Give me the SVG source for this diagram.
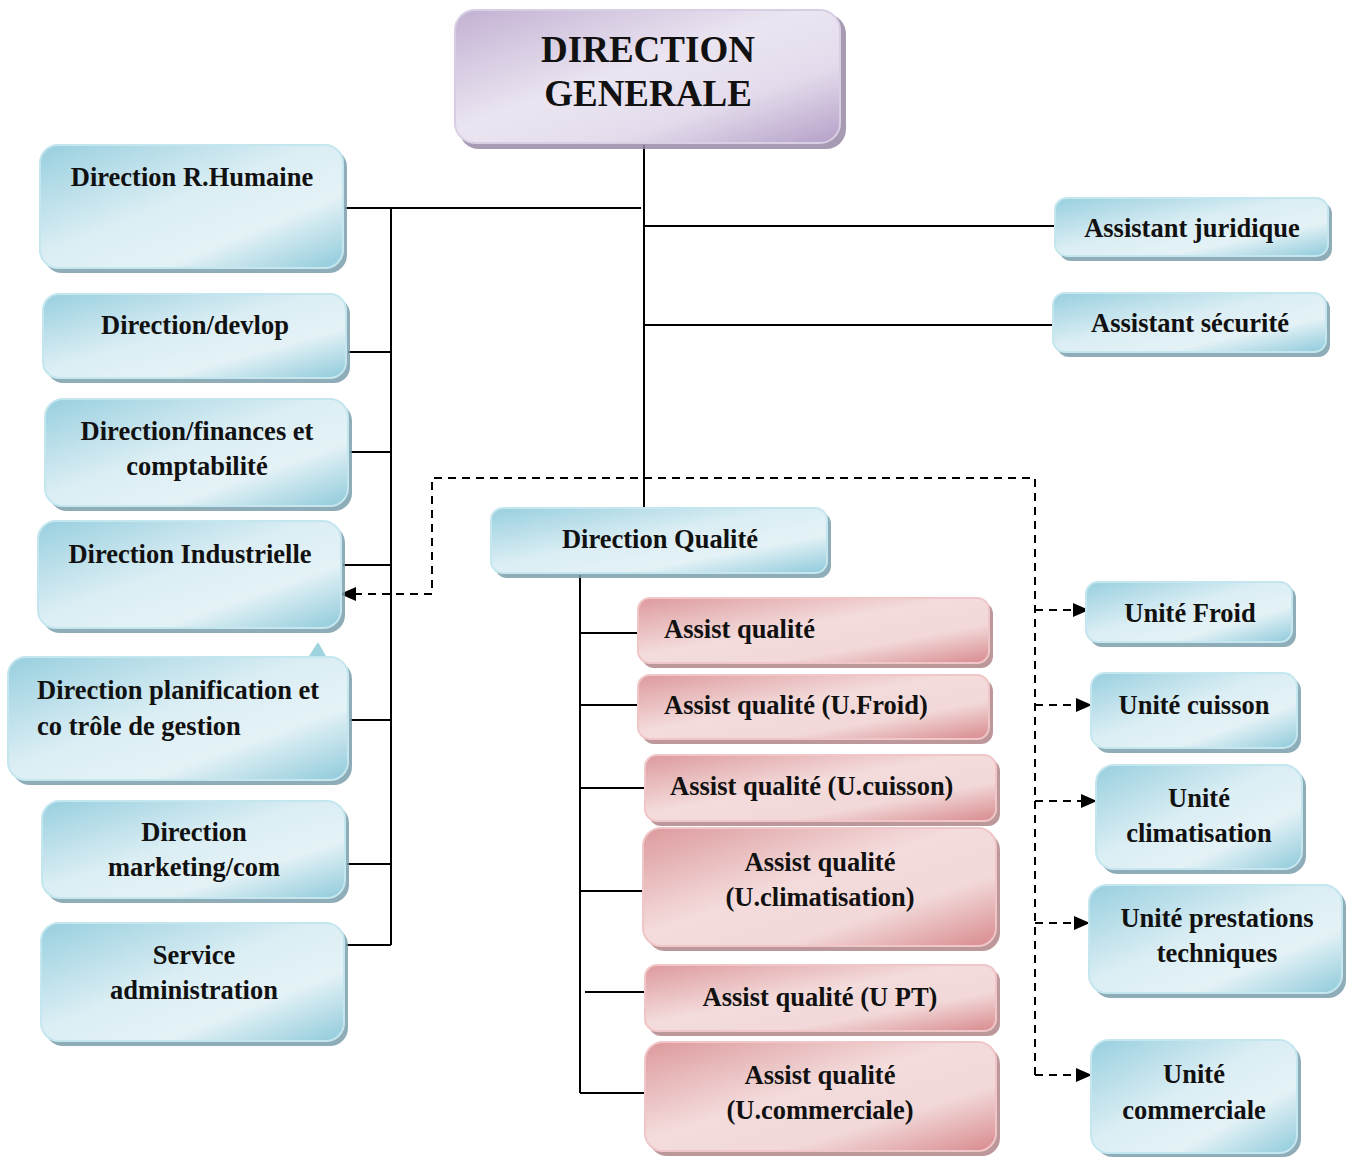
<svg xmlns="http://www.w3.org/2000/svg" width="1348" height="1157" viewBox="0 0 1348 1157">
<defs>
<linearGradient id="gb" x1="0" y1="0" x2="1" y2="1">
<stop offset="0" stop-color="#98cfdf"/>
<stop offset="0.45" stop-color="#dbeef4"/>
<stop offset="0.7" stop-color="#e4f2f6"/>
<stop offset="1" stop-color="#8fcadb"/>
</linearGradient>
<linearGradient id="gp" x1="0" y1="0" x2="1" y2="1">
<stop offset="0" stop-color="#dd9a9d"/>
<stop offset="0.45" stop-color="#f4dcdc"/>
<stop offset="0.7" stop-color="#f2d8d8"/>
<stop offset="1" stop-color="#d88a8e"/>
</linearGradient>
<linearGradient id="gv" x1="0" y1="0" x2="1" y2="1">
<stop offset="0" stop-color="#c2b1d3"/>
<stop offset="0.45" stop-color="#ebe5f1"/>
<stop offset="0.7" stop-color="#e4dcec"/>
<stop offset="1" stop-color="#b4a0c8"/>
</linearGradient>
<marker id="ah" markerWidth="16" markerHeight="16" refX="15" refY="8" orient="auto" markerUnits="userSpaceOnUse">
<path d="M0,1 L16,8 L0,15 Z" fill="#000"/>
</marker>
<style>
.t{font-family:"Liberation Serif","Times New Roman",serif;font-weight:bold;font-size:26.5px;fill:#111;}
.c{text-anchor:middle;}
.b{fill:url(#gb);stroke:#c4e6ee;stroke-width:2;}
.p{fill:url(#gp);stroke:#f0c6c8;stroke-width:2;}
.v{fill:url(#gv);stroke:#d9cfe4;stroke-width:2;}
.sb{fill:#7a9fab;opacity:0.85;}
.sp{fill:#b08688;opacity:0.85;}
.sv{fill:#968aa4;opacity:0.85;}
.l{fill:none;stroke:#000;stroke-width:2;}
.d{fill:none;stroke:#000;stroke-width:2;stroke-dasharray:8 6;}
</style>
</defs>

<g id="connectors">
<path class="l" d="M644,145 V510"/>
<path class="l" d="M345,208 H641"/>
<path class="l" d="M391,208 V945"/>
<path class="l" d="M348,352 H391 M350,452 H391 M343,565 H391 M350,720 H391 M347,864 H391 M346,945 H391"/>
<path class="l" d="M644,226 H1055 M644,325 H1053"/>
<path class="l" d="M580,575 V1093"/>
<path class="l" d="M580,633 H638 M580,705 H638 M580,788 H645 M580,891 H643 M585,992 H645 M580,1093 H645"/>
<path class="d" d="M1035,1075 V478 H432 V594 H341" marker-end="url(#ah)"/>
<path class="d" d="M1035,610 H1088" marker-end="url(#ah)"/>
<path class="d" d="M1035,705 H1091" marker-end="url(#ah)"/>
<path class="d" d="M1035,801 H1096" marker-end="url(#ah)"/>
<path class="d" d="M1035,923 H1089" marker-end="url(#ah)"/>
<path class="d" d="M1035,1075 H1091" marker-end="url(#ah)"/>
</g>

<g id="dg">
<rect class="sv" x="459" y="14" width="387" height="135" rx="20"/>
<rect class="v" x="455" y="10" width="385" height="133" rx="20"/>
<text class="t c" x="648" y="62" style="font-size:37px">DIRECTION</text>
<text class="t c" x="648" y="106" style="font-size:37px">GENERALE</text>
</g>

<g id="rh">
<rect class="sb" x="44" y="149" width="303" height="124" rx="18"/>
<rect class="b" x="40" y="145" width="303" height="123" rx="18"/>
<text class="t c" x="192" y="186">Direction R.Humaine</text>
</g>
<g id="devlop">
<rect class="sb" x="47" y="298" width="303" height="85" rx="16"/>
<rect class="b" x="43" y="294" width="303" height="84" rx="16"/>
<text class="t c" x="195" y="334">Direction/devlop</text>
</g>
<g id="finances">
<rect class="sb" x="49" y="403" width="303" height="108" rx="18"/>
<rect class="b" x="45" y="399" width="303" height="107" rx="18"/>
<text class="t c" x="197" y="440">Direction/finances et</text>
<text class="t c" x="197" y="475">comptabilité</text>
</g>
<g id="industrielle">
<rect class="sb" x="42" y="525" width="303" height="108" rx="18"/>
<rect class="b" x="38" y="521" width="303" height="107" rx="18"/>
<text class="t c" x="190" y="563">Direction Industrielle</text>
</g>
<polygon points="309,656 318,642 326,656" fill="#9fd3e0"/>
<g id="planification">
<rect class="sb" x="12" y="661" width="340" height="124" rx="18"/>
<rect class="b" x="8" y="657" width="340" height="123" rx="18"/>
<text class="t" x="37" y="699">Direction planification et</text>
<text class="t" x="37" y="735">co trôle de gestion</text>
</g>
<g id="marketing">
<rect class="sb" x="46" y="805" width="303" height="98" rx="18"/>
<rect class="b" x="42" y="801" width="303" height="97" rx="18"/>
<text class="t c" x="194" y="841">Direction</text>
<text class="t c" x="194" y="876">marketing/com</text>
</g>
<g id="service">
<rect class="sb" x="45" y="927" width="303" height="119" rx="18"/>
<rect class="b" x="41" y="923" width="303" height="118" rx="18"/>
<text class="t c" x="194" y="964">Service</text>
<text class="t c" x="194" y="999">administration</text>
</g>

<g id="juridique">
<rect class="sb" x="1059" y="202" width="273" height="59" rx="12"/>
<rect class="b" x="1055" y="198" width="273" height="58" rx="12"/>
<text class="t c" x="1192" y="237">Assistant juridique</text>
</g>
<g id="securite">
<rect class="sb" x="1057" y="297" width="273" height="60" rx="12"/>
<rect class="b" x="1053" y="293" width="273" height="59" rx="12"/>
<text class="t c" x="1190" y="332">Assistant sécurité</text>
</g>

<g id="qualite">
<rect class="sb" x="495" y="512" width="336" height="66" rx="12"/>
<rect class="b" x="491" y="508" width="336" height="65" rx="12"/>
<text class="t c" x="660" y="548">Direction Qualité</text>
</g>

<g id="aq1">
<rect class="sp" x="642" y="602" width="351" height="66" rx="12"/>
<rect class="p" x="638" y="598" width="351" height="65" rx="12"/>
<text class="t" x="664" y="638">Assist qualité</text>
</g>
<g id="aq2">
<rect class="sp" x="642" y="679" width="351" height="65" rx="12"/>
<rect class="p" x="638" y="675" width="351" height="64" rx="12"/>
<text class="t" x="664" y="714">Assist qualité (U.Froid)</text>
</g>
<g id="aq3">
<rect class="sp" x="649" y="759" width="351" height="67" rx="12"/>
<rect class="p" x="645" y="755" width="351" height="66" rx="12"/>
<text class="t" x="670" y="795">Assist qualité (U.cuisson)</text>
</g>
<g id="aq4">
<rect class="sp" x="647" y="832" width="353" height="119" rx="18"/>
<rect class="p" x="643" y="828" width="353" height="118" rx="18"/>
<text class="t c" x="820" y="871">Assist qualité</text>
<text class="t c" x="820" y="906">(U.climatisation)</text>
</g>
<g id="aq5">
<rect class="sp" x="649" y="969" width="351" height="67" rx="12"/>
<rect class="p" x="645" y="965" width="351" height="66" rx="12"/>
<text class="t c" x="820" y="1006">Assist qualité (U PT)</text>
</g>
<g id="aq6">
<rect class="sp" x="649" y="1046" width="351" height="110" rx="18"/>
<rect class="p" x="645" y="1042" width="351" height="109" rx="18"/>
<text class="t c" x="820" y="1084">Assist qualité</text>
<text class="t c" x="820" y="1119">(U.commerciale)</text>
</g>

<g id="ufroid">
<rect class="sb" x="1090" y="586" width="206" height="61" rx="12"/>
<rect class="b" x="1086" y="582" width="206" height="60" rx="12"/>
<text class="t c" x="1190" y="622">Unité Froid</text>
</g>
<g id="ucuisson">
<rect class="sb" x="1095" y="677" width="206" height="76" rx="14"/>
<rect class="b" x="1091" y="673" width="206" height="75" rx="14"/>
<text class="t c" x="1194" y="714">Unité cuisson</text>
</g>
<g id="uclim">
<rect class="sb" x="1100" y="769" width="206" height="105" rx="18"/>
<rect class="b" x="1096" y="765" width="206" height="104" rx="18"/>
<text class="t c" x="1199" y="807">Unité</text>
<text class="t c" x="1199" y="842">climatisation</text>
</g>
<g id="upt">
<rect class="sb" x="1093" y="889" width="253" height="109" rx="18"/>
<rect class="b" x="1089" y="885" width="253" height="108" rx="18"/>
<text class="t c" x="1217" y="927">Unité prestations</text>
<text class="t c" x="1217" y="962">techniques</text>
</g>
<g id="ucom">
<rect class="sb" x="1095" y="1044" width="206" height="113" rx="18"/>
<rect class="b" x="1091" y="1040" width="206" height="113" rx="18"/>
<text class="t c" x="1194" y="1083">Unité</text>
<text class="t c" x="1194" y="1119">commerciale</text>
</g>
</svg>
